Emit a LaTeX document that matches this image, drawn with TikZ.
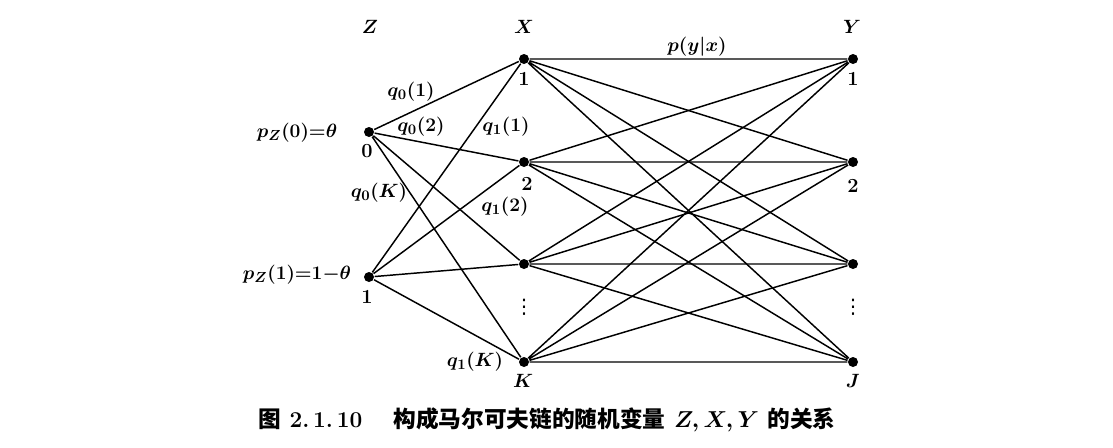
\documentclass[tikz,border=0pt]{standalone}
\usepackage{amsmath}
\usepackage{amssymb}
\usepackage{fontspec}
\newfontfamily\cjk{Noto Sans CJK SC}
\newfontfamily\dotsfont{DejaVu Sans}
\usepackage{tikz}

\tikzset{
  dot/.style={circle, fill, inner sep=0pt, minimum size=7.5pt},
  lbl/.style={font=\fontsize{15}{17}\selectfont\bfseries, inner sep=1pt}
}

\begin{document}
\begin{tikzpicture}[x=0.75pt, y=-0.75pt, line width=1.1pt]
        \useasboundingbox (0,0) rectangle (1113,447);
        %Z
        \node[dot] (z0) at (369,132) {};
        \node[dot] (z1) at (369,277) {};
        %X
        \node[dot] (x1) at (524,59) {};
        \node[dot] (x2) at (524,162) {};
        \node[dot] (x3) at (524,264) {};
        \node[dot] (xk) at (524,362) {};
        %Y
        \node[dot] (y1) at (853,59) {};
        \node[dot] (y2) at (853,162) {};
        \node[dot] (y3) at (853,264) {};
        \node[dot] (yj) at (853,362) {};
        % Z -> X
        \draw (z0) -- (x1) (z0) -- (x2) (z0) -- (x3) (z0) -- (xk);
        \draw (z1) -- (x1) (z1) -- (x2) (z1) -- (x3) (z1) -- (xk);
        % X -> Y
        \draw (x1) -- (y1) (x1) -- (y2) (x1) -- (y3) (x1) -- (yj);
        \draw (x2) -- (y1) (x2) -- (y2) (x2) -- (y3) (x2) -- (yj);
        \draw (x3) -- (y1) (x3) -- (y2) (x3) -- (y3) (x3) -- (yj);
        \draw (xk) -- (y1) (xk) -- (y2) (xk) -- (y3) (xk) -- (yj);
        % headers
        \node[lbl] (hz) at (370,27) {$\boldsymbol{Z}$};
        \node[lbl] (hx) at (524,27) {$\boldsymbol{X}$};
        \node[lbl] (hy) at (852,27) {$\boldsymbol{Y}$};
        \node[lbl] (pyx) at (697,47) {$\boldsymbol{p(y|x)}$};
        % node numbers
        \node[lbl] (nz0) at (367,151) {0};
        \node[lbl] (nz1) at (367,297) {1};
        \node[lbl] (nx1) at (524,79) {1};
        \node[lbl] (nx2) at (527,184) {2};
        \node[lbl] (nx3) at (524,307) {\dotsfont\mdseries ⋮};
        \node[lbl] (nxk) at (523,381) {$\boldsymbol{K}$};
        \node[lbl] (ny1) at (853,79) {1};
        \node[lbl] (ny2) at (853,186) {2};
        \node[lbl] (ny3) at (853,307) {\dotsfont\mdseries ⋮};
        \node[lbl] (nyj) at (853,381) {$\boldsymbol{J}$};
        % probabilities
        \node[lbl] (pz0) at (297,133) {$\boldsymbol{p_Z(0){=}\theta}$};
        \node[lbl] (pz1) at (297,275) {$\boldsymbol{p_Z(1){=}1{-}\theta}$};
        \node[lbl] (q01) at (411,92) {$\boldsymbol{q_0(1)}$};
        \node[lbl] (q02) at (421,127) {$\boldsymbol{q_0(2)}$};
        \node[lbl] (q11) at (506,127) {$\boldsymbol{q_1(1)}$};
        \node[lbl] (q0k) at (379,193) {$\boldsymbol{q_0(K)}$};
        \node[lbl] (q12) at (505,207) {$\boldsymbol{q_1(2)}$};
        \node[lbl] (q1k) at (475,362) {$\boldsymbol{q_1(K)}$};
        % caption
        \node[lbl, font=\fontsize{17}{20}\selectfont\bfseries] (caption) at (547,420) {{\cjk 图}\ 2.\,1.\,10\quad\ {\cjk 构成马尔可夫链的随机变量}\ $\boldsymbol{Z,X,Y}$\ {\cjk 的关系}};
    \end{tikzpicture}
\end{document}
